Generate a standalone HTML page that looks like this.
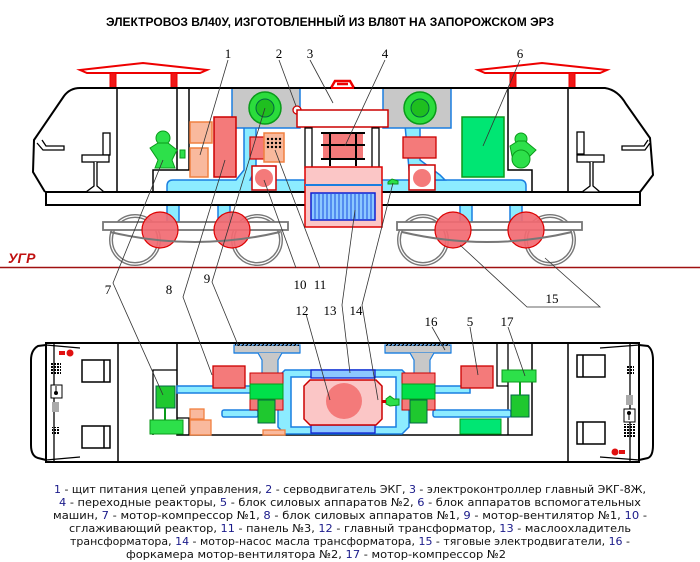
<!DOCTYPE html>
<html><head><meta charset="utf-8"><style>
html,body{margin:0;padding:0;background:#fff;}
svg{display:block;}
.t{font-family:"Liberation Sans","DejaVu Sans",sans-serif;}
.n{font-family:"Liberation Serif",serif;font-size:13px;fill:#000;}
.leg{font-family:"DejaVu Sans Condensed","DejaVu Sans","Liberation Sans",sans-serif;font-size:11px;fill:#111;}
.b{fill:#1a1a8a;}
</style></head><body>
<svg width="700" height="562" viewBox="0 0 700 562" xmlns="http://www.w3.org/2000/svg">
<text x="330" y="26" text-anchor="middle" class="t" font-size="11.5" font-weight="bold" textLength="448" lengthAdjust="spacingAndGlyphs">ЭЛЕКТРОВОЗ ВЛ40У, ИЗГОТОВЛЕННЫЙ ИЗ ВЛ80Т НА ЗАПОРОЖСКОМ ЭРЗ</text>

<!-- pantographs -->
<g fill="#f01818" stroke="#e00" stroke-width="1">
<polygon points="80,70 143,63 207,70 200,73 87,73" fill="none" stroke-width="2"/>
<rect x="110" y="73" width="6" height="15"/><rect x="171" y="73" width="6" height="15"/>
<polygon points="478,70 542,63 607,70 600,73 485,73" fill="none" stroke-width="2"/>
<rect x="510" y="73" width="6" height="15"/><rect x="569" y="73" width="6" height="15"/>
</g>
<path d="M331,88 L335,81 L350,81 L354,88 M337,84 L348,84" fill="none" stroke="#e00" stroke-width="2.5"/>

<!-- upper view: cyan ducts -->
<g fill="#8cecff" stroke="#1a7ee0" stroke-width="1.5">
<path d="M167,192 L167,186 Q167,180 173,180 L236,180 L244,170 L244,128 L256,124 L256,168 L250,180 L520,180 Q526,180 526,186 L526,192 Z"/>
<path d="M405,125 L420,125 L420,160 L440,175 L445,180 L410,180 Z"/>
<rect x="167" y="205" width="12" height="17"/><rect x="218" y="205" width="12" height="17"/>
<rect x="460" y="205" width="12" height="17"/><rect x="510" y="205" width="12" height="17"/>
</g>
<!-- gray forechambers -->
<rect x="232" y="88" width="68" height="40" fill="#c8c8c8" stroke="#1a7ee0" stroke-width="1.5"/>
<rect x="383" y="88" width="68" height="40" fill="#c8c8c8" stroke="#1a7ee0" stroke-width="1.5"/>
<circle cx="265" cy="108" r="16" fill="#2bdc3c" stroke="#0a9a1a" stroke-width="1.5"/>
<circle cx="265" cy="108" r="9" fill="#1fbf1f" stroke="#064" stroke-width="1"/>
<circle cx="420" cy="108" r="16" fill="#2bdc3c" stroke="#0a9a1a" stroke-width="1.5"/>
<circle cx="420" cy="108" r="9" fill="#1fbf1f" stroke="#064" stroke-width="1"/>

<!-- body outline -->
<g fill="none" stroke="#000" stroke-width="2">
<path d="M80,88 L605,88 Q618,90 626,104 L650,138 L653,175 L640,192"/>
<path d="M80,88 Q70,88 64,96 L34,140 L33,172 L45,192"/>
<rect x="46" y="192" width="594" height="13" fill="#fff"/>
<line x1="117" y1="88" x2="117" y2="192" stroke-width="1.5"/>
<path d="M177,88 L177,170 M189,88 L189,170 L153,170 L153,192" stroke-width="1.5"/>
<path d="M508,88 L508,170 L532,170 L532,192" stroke-width="1.5"/>
<line x1="568" y1="88" x2="568" y2="192" stroke-width="1.5"/>
</g>
<line x1="331" y1="88" x2="354" y2="88" stroke="#e00" stroke-width="2"/>
<!-- desks and chairs -->
<g fill="#fff" stroke="#000" stroke-width="1.3">
<path d="M37,143 L43,150 L64,150 L64,146 L46,146 L42,140"/>
<rect x="103" y="133" width="7" height="22"/><rect x="82" y="155" width="27" height="7"/>
<path d="M94,162 L94,186 L86,192 L104,192 L97,186 L97,162"/>
<path d="M648,140 L644,146 L622,146 L622,150 L645,150 L650,143"/>
<rect x="577" y="132" width="7" height="22"/><rect x="577" y="155" width="27" height="7"/>
<path d="M590,162 L590,186 L582,192 L600,192 L593,186 L593,162"/>
</g>
<!-- operators -->
<g fill="#2de04a" stroke="#0a9a1a" stroke-width="1">
<circle cx="163" cy="138" r="7"/>
<polygon points="150,148 158,143 168,143 177,150 172,160 175,168 155,168 158,160"/>
<rect x="180" y="150" width="5" height="8"/>
<circle cx="521" cy="139" r="6"/>
<polygon points="510,146 518,141 525,141 536,150 530,156 512,156"/>
<circle cx="521" cy="159" r="9"/>
</g>

<!-- blocks upper -->
<rect x="190" y="122" width="22" height="21" fill="#f9b99d" stroke="#f08040" stroke-width="1.5"/>
<rect x="190" y="148" width="18" height="29" fill="#f9b99d" stroke="#f08040" stroke-width="1.5"/>
<rect x="214" y="117" width="22" height="60" fill="#f47a7a" stroke="#c00" stroke-width="1.5"/>
<rect x="250" y="137" width="15" height="22" fill="#f47a7a" stroke="#c00" stroke-width="1.2"/>
<rect x="264" y="133" width="20" height="29" fill="#f9b99d" stroke="#f08040" stroke-width="1.5"/>
<g fill="#000">
<circle cx="268" cy="139" r="1.2"/><circle cx="272" cy="139" r="1.2"/><circle cx="276" cy="139" r="1.2"/><circle cx="280" cy="139" r="1.2"/>
<circle cx="268" cy="143" r="1.2"/><circle cx="272" cy="143" r="1.2"/><circle cx="276" cy="143" r="1.2"/><circle cx="280" cy="143" r="1.2"/>
<circle cx="268" cy="147" r="1.2"/><circle cx="272" cy="147" r="1.2"/><circle cx="276" cy="147" r="1.2"/><circle cx="280" cy="147" r="1.2"/>
</g>
<rect x="252" y="166" width="24" height="24" fill="#fff" stroke="#c00" stroke-width="1.5"/>
<circle cx="264" cy="178" r="9" fill="#f47a7a"/>
<circle cx="297" cy="110" r="4" fill="#fff" stroke="#c00" stroke-width="1.3"/>
<rect x="297" y="110" width="91" height="17" fill="#fff" stroke="#c00" stroke-width="1.5"/>
<rect x="305" y="128" width="7" height="40" fill="#fff" stroke="#000" stroke-width="1.3"/>
<rect x="372" y="128" width="7" height="40" fill="#fff" stroke="#000" stroke-width="1.3"/>
<rect x="323" y="132" width="40" height="28" fill="#f47a7a"/>
<g stroke="#000" stroke-width="2"><line x1="321" y1="133" x2="365" y2="133"/><line x1="321" y1="145" x2="365" y2="145"/><line x1="321" y1="159" x2="365" y2="159"/><line x1="330" y1="132" x2="330" y2="166"/><line x1="356" y1="132" x2="356" y2="166"/></g>
<rect x="305" y="167" width="77" height="60" fill="#fbc6c6" stroke="#d00" stroke-width="1.5"/>
<line x1="305" y1="185" x2="382" y2="185" stroke="#1a7ee0" stroke-width="2"/>
<rect x="311" y="193" width="64" height="27" fill="#8cc8ff" stroke="#1020d0" stroke-width="1.5"/>
<g stroke="#1a50e0" stroke-width="1">
<path d="M315,194V219M319,194V219M323,194V219M327,194V219M331,194V219M335,194V219M339,194V219M343,194V219M347,194V219M351,194V219M355,194V219M359,194V219M363,194V219M367,194V219M371,194V219"/>
</g>
<rect x="403" y="137" width="33" height="21" fill="#f47a7a" stroke="#c00" stroke-width="1.3"/>
<rect x="409" y="165" width="26" height="25" fill="#fff" stroke="#c00" stroke-width="1.5"/>
<circle cx="422" cy="178" r="9" fill="#f47a7a"/>
<rect x="462" y="117" width="42" height="60" fill="#00e673" stroke="#0a9a1a" stroke-width="1.5"/>
<polygon points="388,182 392,179 398,181 398,184 388,184" fill="#2de04a" stroke="#0a9a1a"/>

<!-- bogies -->
<g fill="none" stroke="#777" stroke-width="4">
<circle cx="135" cy="240" r="24"/><circle cx="257" cy="240" r="24"/>
<circle cx="423" cy="240" r="24"/><circle cx="550" cy="240" r="24"/>
</g>
<g fill="none" stroke="#fff" stroke-width="1.2">
<circle cx="135" cy="240" r="24"/><circle cx="257" cy="240" r="24"/>
<circle cx="423" cy="240" r="24"/><circle cx="550" cy="240" r="24"/>
</g>
<rect x="103" y="222" width="185" height="8" fill="#fff" stroke="#777" stroke-width="1.8"/>
<rect x="397" y="222" width="185" height="8" fill="#fff" stroke="#777" stroke-width="1.8"/>
<g fill="#f26a72" fill-opacity="0.92" stroke="#d00" stroke-width="1.2">
<circle cx="160" cy="230" r="18"/><circle cx="232" cy="230" r="18"/>
<circle cx="453" cy="230" r="18"/><circle cx="526" cy="230" r="18"/>
</g>
<path d="M110,232 Q195,252 280,232 M402,232 Q487,252 572,232" fill="none" stroke="#777" stroke-width="2"/>

<!-- UGR -->
<line x1="0" y1="267.5" x2="700" y2="267.5" stroke="#a01010" stroke-width="1.5"/>
<text x="8" y="263" class="t" font-size="14" font-weight="bold" font-style="italic" fill="#c01010">УГР</text>

<!-- plan view -->
<g fill="none" stroke="#000" stroke-width="2">
<rect x="46" y="343" width="593" height="119"/>
<path d="M46,345 L38,346 Q31,350 31,360 L31,445 Q31,456 38,458 L46,460"/>
<path d="M639,345 L648,346 Q653,350 653,360 L653,445 Q653,456 648,458 L639,460"/>
<path d="M46,345 L80,348 M46,460 L80,457 M639,345 L600,348 M639,460 L600,457" stroke-width="1.3"/>
<line x1="54" y1="343" x2="54" y2="462" stroke-width="1.3"/>
<line x1="630" y1="343" x2="630" y2="462" stroke-width="1.3"/>
<line x1="118" y1="343" x2="118" y2="462" stroke-width="1.5"/>
<line x1="568" y1="343" x2="568" y2="462" stroke-width="1.5"/>
<path d="M177,343 L177,435 L532,435 L532,343" stroke-width="1.5"/>
<path d="M153,435 L153,370 L177,370 M177,418 L189,418 L189,435" stroke-width="1.3"/>
<path d="M497,343 L497,386 L508,386 M508,343 L508,435" stroke-width="1.3"/>
</g>
<g fill="#fff" stroke="#000" stroke-width="1.5">
<rect x="82" y="360" width="28" height="22"/><line x1="104" y1="360" x2="104" y2="382"/>
<rect x="82" y="426" width="28" height="22"/><line x1="104" y1="426" x2="104" y2="448"/>
<rect x="577" y="355" width="28" height="22"/><line x1="583" y1="355" x2="583" y2="377"/>
<rect x="577" y="422" width="28" height="22"/><line x1="583" y1="422" x2="583" y2="444"/>
</g>
<rect x="59" y="351" width="6" height="4" fill="#e01010"/><circle cx="70" cy="353" r="3.5" fill="#e01010"/>
<rect x="619" y="450" width="6" height="4" fill="#e01010"/><circle cx="615" cy="452" r="3.5" fill="#e01010"/>
<defs><pattern id="d" width="3" height="3" patternUnits="userSpaceOnUse"><rect width="2" height="2" fill="#000"/></pattern>
<pattern id="h" width="4" height="4" patternUnits="userSpaceOnUse"><path d="M0,4 L4,0" stroke="#000" stroke-width="1.3"/></pattern></defs>
<rect x="51" y="362" width="10" height="13" fill="url(#d)"/>
<rect x="51" y="385" width="11" height="13" fill="#fff" stroke="#000"/><circle cx="56" cy="393" r="2" fill="#000"/><line x1="56" y1="386" x2="56" y2="392" stroke="#000"/>
<rect x="52" y="402" width="7" height="10" fill="#aaa"/>
<rect x="52" y="427" width="8" height="8" fill="url(#d)"/>
<rect x="627" y="366" width="7" height="9" fill="url(#d)"/>
<rect x="626" y="395" width="7" height="10" fill="#aaa"/>
<rect x="624" y="409" width="11" height="13" fill="#fff" stroke="#000"/><circle cx="629" cy="413" r="2" fill="#000"/><line x1="629" y1="414" x2="629" y2="420" stroke="#000"/>
<rect x="624" y="424" width="11" height="14" fill="url(#d)"/>

<!-- plan ducts -->
<g fill="#8cecff" stroke="#1a7ee0" stroke-width="1.5">
<rect x="177" y="386" width="75" height="7"/>
<rect x="222" y="410" width="36" height="7" rx="2"/>
<rect x="430" y="386" width="40" height="7"/>
<rect x="433" y="410" width="78" height="7" rx="2"/>
<path d="M285,370 L402,370 L409,377 L409,427 L402,434 L285,434 L278,427 L278,377 Z M291,377 L291,427 L396,427 L396,377 Z" fill-rule="evenodd"/>
</g>
<rect x="234" y="345" width="66" height="8" fill="#c8c8c8" stroke="#1a7ee0" stroke-width="1.2"/>
<path d="M234,353 L258,353 L262,360 L262,385 L278,385 L278,360 L282,353 L300,353" fill="#c8c8c8" stroke="#1a7ee0" stroke-width="1.2"/>
<rect x="385" y="345" width="66" height="8" fill="#c8c8c8" stroke="#1a7ee0" stroke-width="1.2"/>
<path d="M385,353 L410,353 L414,360 L414,385 L430,385 L430,360 L434,353 L451,353" fill="#c8c8c8" stroke="#1a7ee0" stroke-width="1.2"/>
<rect x="235" y="343" width="64" height="3" fill="url(#h)"/>
<rect x="386" y="343" width="64" height="3" fill="url(#h)"/>
<rect x="250" y="373" width="33" height="37" fill="#f47a7a" stroke="#c00" stroke-width="1"/>
<rect x="402" y="373" width="33" height="37" fill="#f47a7a" stroke="#c00" stroke-width="1"/>
<rect x="250" y="384" width="33" height="15" fill="#00e04a" stroke="#0a9a1a"/>
<rect x="402" y="384" width="33" height="15" fill="#00e04a" stroke="#0a9a1a"/>
<rect x="258" y="400" width="17" height="23" fill="#1fc82f" stroke="#064"/>
<rect x="410" y="400" width="17" height="23" fill="#1fc82f" stroke="#064"/>
<rect x="311" y="370" width="64" height="8" fill="#8cc8ff" stroke="#1020d0" stroke-width="1.3"/>
<rect x="311" y="425" width="64" height="8" fill="#8cc8ff" stroke="#1020d0" stroke-width="1.3"/>
<polygon points="310,380 376,380 382,386 382,419 376,425 310,425 304,419 304,386" fill="#fbc6c6" stroke="#c00" stroke-width="1.5"/>
<ellipse cx="344" cy="401" rx="18" ry="18" fill="#f47a7a"/>
<polygon points="386,399 390,396 394,399 399,399 399,405 390,406 386,404" fill="#2de04a" stroke="#0a9a1a"/>
<rect x="382" y="400" width="4" height="3" fill="#c00"/>
<rect x="213" y="366" width="32" height="22" fill="#f47a7a" stroke="#c00" stroke-width="1.3"/>
<rect x="461" y="366" width="32" height="22" fill="#f47a7a" stroke="#c00" stroke-width="1.3"/>
<rect x="156" y="386" width="19" height="22" fill="#1fc82f" stroke="#064"/>
<line x1="165" y1="408" x2="165" y2="420" stroke="#0a9a1a" stroke-width="2"/>
<rect x="150" y="420" width="33" height="14" fill="#2de04a" stroke="#0a9a1a"/>
<rect x="511" y="395" width="18" height="22" fill="#1fc82f" stroke="#064"/>
<line x1="520" y1="382" x2="520" y2="395" stroke="#0a9a1a" stroke-width="2"/>
<rect x="502" y="370" width="34" height="12" fill="#2de04a" stroke="#0a9a1a"/>
<rect x="460" y="419" width="41" height="15" fill="#00e673" stroke="#0a9a1a"/>
<rect x="190" y="409" width="14" height="10" fill="#f9b99d" stroke="#f08040" stroke-width="1.3"/>
<rect x="190" y="420" width="21" height="15" fill="#f9b99d" stroke="#f08040" stroke-width="1.3"/>
<rect x="263" y="430" width="22" height="5" fill="#f9b99d" stroke="#f08040" stroke-width="1.3"/>

<!-- leader lines -->
<g fill="none" stroke="#333" stroke-width="0.8">
<path d="M228,60 L200,155"/>
<path d="M279,60 L296,106"/>
<path d="M310,60 L333,103"/>
<path d="M385,60 L345,146"/>
<path d="M520,60 L483,146"/>
<path d="M163,160 L113,283 L163,395"/>
<path d="M225,160 L183,297 L212,375"/>
<path d="M265,108 L212,282 L238,345"/>
<path d="M264,180 L296,268"/>
<path d="M275,150 L320,268"/>
<path d="M306,314 L330,400"/>
<path d="M355,210 L342,305 L350,373"/>
<path d="M393,183 L362,305 L378,400"/>
<path d="M460,245 L527,307 L600,307 L545,258"/>
<path d="M432,327 L445,350"/>
<path d="M470,327 L478,375"/>
<path d="M508,327 L525,376"/>
</g>

<!-- number labels -->
<g class="n" text-anchor="middle">
<text x="228" y="58">1</text><text x="279" y="58">2</text><text x="310" y="58">3</text><text x="385" y="58">4</text><text x="520" y="58">6</text>
<text x="108" y="294">7</text><text x="169" y="294">8</text><text x="207" y="283">9</text>
<text x="300" y="289">10</text><text x="320" y="289">11</text>
<text x="302" y="315">12</text><text x="330" y="315">13</text><text x="356" y="315">14</text>
<text x="552" y="303">15</text>
<text x="431" y="326">16</text><text x="470" y="326">5</text><text x="507" y="326">17</text>
</g>

<!-- legend -->
<g class="leg" text-anchor="middle">
<text x="350" y="493" textLength="592" lengthAdjust="spacingAndGlyphs"><tspan class="b">1</tspan> - щит питания цепей управления, <tspan class="b">2</tspan> - серводвигатель ЭКГ, <tspan class="b">3</tspan> - электроконтроллер главный ЭКГ-8Ж,</text>
<text x="350" y="506" textLength="582" lengthAdjust="spacingAndGlyphs"><tspan class="b">4</tspan> - переходные реакторы,  <tspan class="b">5</tspan> - блок силовых аппаратов №2,  <tspan class="b">6</tspan> - блок аппаратов вспомогательных</text>
<text x="350" y="519" textLength="594" lengthAdjust="spacingAndGlyphs">машин, <tspan class="b">7</tspan> - мотор-компрессор №1, <tspan class="b">8</tspan> - блок силовых аппаратов №1, <tspan class="b">9</tspan> - мотор-вентилятор №1, <tspan class="b">10</tspan> -</text>
<text x="350" y="532" textLength="562" lengthAdjust="spacingAndGlyphs">сглаживающий  реактор,  <tspan class="b">11</tspan> - панель  №3,  <tspan class="b">12</tspan> - главный трансформатор,  <tspan class="b">13</tspan> - маслоохладитель</text>
<text x="350" y="545" textLength="560" lengthAdjust="spacingAndGlyphs">трансформатора,  <tspan class="b">14</tspan> - мотор-насос масла трансформатора,  <tspan class="b">15</tspan> - тяговые электродвигатели,  <tspan class="b">16</tspan> -</text>
<text x="316" y="558" textLength="380" lengthAdjust="spacingAndGlyphs">форкамера мотор-вентилятора №2, <tspan class="b">17</tspan> - мотор-компрессор №2</text>
</g>
</svg>
</body></html>
